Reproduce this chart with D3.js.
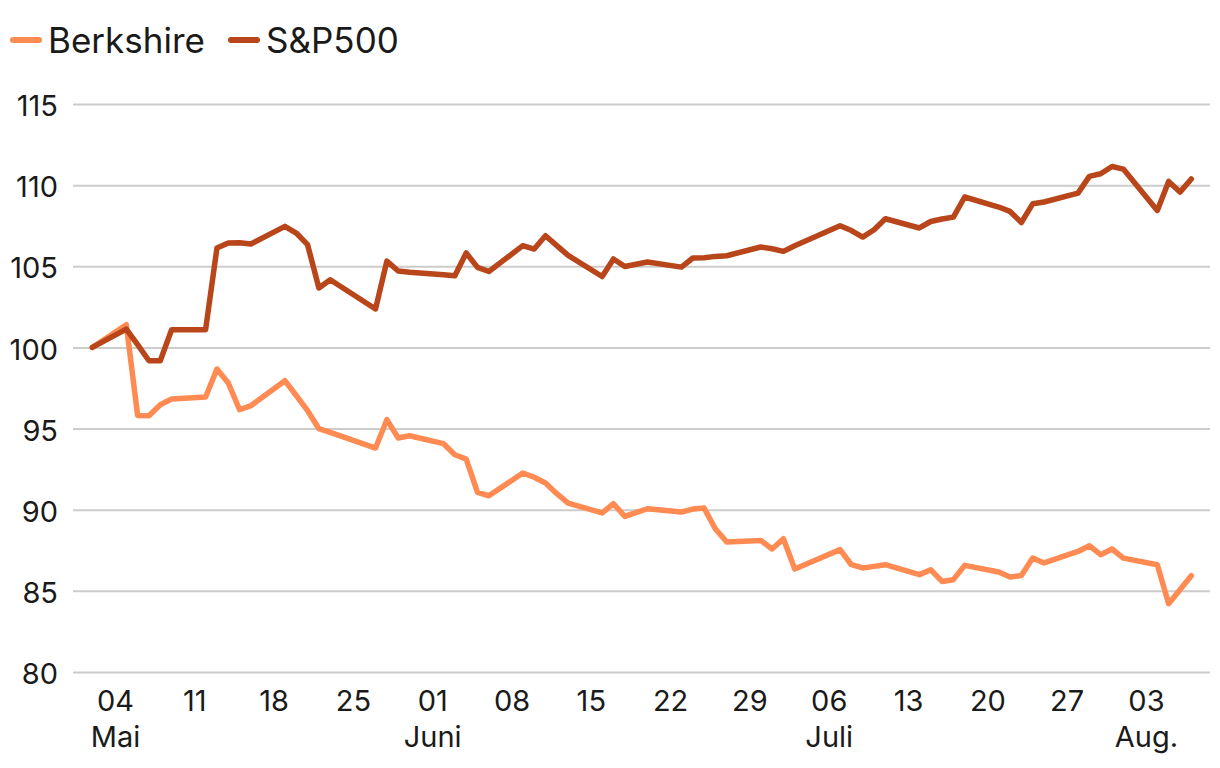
<!DOCTYPE html>
<html>
<head>
<meta charset="utf-8">
<script src="https://cdn.jsdelivr.net/npm/d3@7"></script>
<style>
  body { margin: 0; background: #fff; }
  svg { display: block; font-family: Inter, "Noto Sans", sans-serif; }
</style>
</head>
<body>
<div id="chart"></div>
<script>
// trading days, indexed to 100 on 2 May
var days = ["2025-05-02","2025-05-05","2025-05-06","2025-05-07","2025-05-08","2025-05-09",
  "2025-05-12","2025-05-13","2025-05-14","2025-05-15","2025-05-16",
  "2025-05-19","2025-05-20","2025-05-21","2025-05-22","2025-05-23",
  "2025-05-27","2025-05-28","2025-05-29","2025-05-30",
  "2025-06-02","2025-06-03","2025-06-04","2025-06-05","2025-06-06",
  "2025-06-09","2025-06-10","2025-06-11","2025-06-12","2025-06-13",
  "2025-06-16","2025-06-17","2025-06-18","2025-06-20",
  "2025-06-23","2025-06-24","2025-06-25","2025-06-26","2025-06-27",
  "2025-06-30","2025-07-01","2025-07-02","2025-07-03",
  "2025-07-07","2025-07-08","2025-07-09","2025-07-10","2025-07-11",
  "2025-07-14","2025-07-15","2025-07-16","2025-07-17","2025-07-18",
  "2025-07-21","2025-07-22","2025-07-23","2025-07-24","2025-07-25",
  "2025-07-28","2025-07-29","2025-07-30","2025-07-31","2025-08-01",
  "2025-08-04","2025-08-05","2025-08-06","2025-08-07"];

var berkshire = [100, 101.40, 95.81, 95.79, 96.47, 96.82,
  96.94, 98.67, 97.81, 96.16, 96.41,
  97.95, 97.04, 96.10, 94.99, 94.76,
  93.80, 95.55, 94.42, 94.56,
  94.07, 93.39, 93.12, 91.07, 90.86,
  92.26, 92.00, 91.65, 90.99, 90.41,
  89.80, 90.37, 89.59, 90.06,
  89.86, 90.04, 90.10, 88.81, 88.01,
  88.11, 87.58, 88.21, 86.35,
  87.54, 86.61, 86.41, 86.51, 86.61,
  86.00, 86.30, 85.58, 85.69, 86.57,
  86.16, 85.85, 85.95, 87.02, 86.72,
  87.43, 87.78, 87.23, 87.58, 87.02,
  86.61, 84.21, 85.07, 85.93];

var sp500 = [100, 101.13, 100.17, 99.18, 99.18, 101.09,
  101.09, 106.12, 106.43, 106.45, 106.37,
  107.46, 107.05, 106.33, 103.66, 104.17,
  102.37, 105.32, 104.71, 104.63,
  104.48, 104.42, 105.82, 104.93, 104.68,
  106.27, 106.06, 106.88, 106.27, 105.67,
  104.37, 105.45, 104.99, 105.26,
  104.95, 105.51, 105.53, 105.61, 105.65,
  106.19, 106.08, 105.92, 106.27,
  107.50, 107.20, 106.80, 107.25, 107.93,
  107.36, 107.76, 107.91, 108.03, 109.27,
  108.65, 108.38, 107.70, 108.85, 108.96,
  109.51, 110.54, 110.70, 111.15, 110.99,
  108.44, 110.23, 109.57, 110.38];

var yTicks = [80, 85, 90, 95, 100, 105, 110, 115];
var monthNames = ["Jan.", "Feb.", "März", "April", "Mai", "Juni", "Juli", "Aug.", "Sep.", "Okt.", "Nov.", "Dez."];
var seriesNames = ["Berkshire", "S&P500"];
var colors = ["#ff8a52", "#b8461a"];

var width = 1220, height = 768;
var parse = d3.timeParse("%Y-%m-%d");
var dates = days.map(parse);

var svg = d3.select("#chart").append("svg")
    .attr("width", width)
    .attr("height", height);

var x = d3.scaleTime()
    .domain([dates[0], dates[dates.length - 1]])
    .range([92.3, 1191.3]);

var y = d3.scaleLinear()
    .domain([80, 115])
    .range([672, 104]);

var gridLeft = 73, gridRight = 1210;

// y axis + gridlines
var yAxis = svg.append("g")
    .attr("transform", "translate(" + gridLeft + ",0)")
    .call(d3.axisLeft(y)
        .tickValues(yTicks)
        .tickSize(-(gridRight - gridLeft))
        .tickPadding(15));
yAxis.select(".domain").remove();
yAxis.selectAll(".tick line")
    .attr("stroke", "#cccccc")
    .attr("stroke-width", 2);
yAxis.selectAll(".tick text")
    .attr("dy", "0.4em")
    .attr("fill", "#1a1a1a")
    .style("font-size", "29px")
    .style("font-family", "Inter, sans-serif");

// x axis
var xAxis = svg.append("g")
    .attr("transform", "translate(0,672)")
    .call(d3.axisBottom(x)
        .ticks(d3.timeSunday.every(1))
        .tickFormat(d3.timeFormat("%d"))
        .tickSize(0)
        .tickPadding(18.5));
xAxis.select(".domain").remove();
xAxis.selectAll(".tick text")
    .attr("fill", "#1a1a1a")
    .style("font-size", "29px")
    .style("font-family", "Inter, sans-serif");
xAxis.selectAll(".tick")
    .filter(function (d) { return d.getDate() <= 7; })
    .append("text")
    .attr("y", 18.5)
    .attr("dy", "1.95em")
    .attr("text-anchor", "middle")
    .attr("fill", "#1a1a1a")
    .style("font-size", "29px")
    .style("font-family", "Inter, sans-serif")
    .text(function (d) { return monthNames[d.getMonth()]; });

// lines
var line = d3.line()
    .x(function (d, i) { return x(dates[i]); })
    .y(function (d) { return y(d); });

[berkshire, sp500].forEach(function (vals, k) {
  svg.append("path")
      .datum(vals)
      .attr("d", line)
      .attr("fill", "none")
      .attr("stroke", colors[k])
      .attr("stroke-width", 5.5)
      .attr("stroke-linejoin", "round")
      .attr("stroke-linecap", "round");
});

// legend
var legendX = [10, 228];
var legend = svg.append("g");
seriesNames.forEach(function (name, k) {
  legend.append("line")
      .attr("x1", legendX[k] + 3).attr("x2", legendX[k] + 29)
      .attr("y1", 40).attr("y2", 40)
      .attr("stroke", colors[k])
      .attr("stroke-width", 6)
      .attr("stroke-linecap", "round");
  legend.append("text")
      .attr("x", legendX[k] + 38)
      .attr("y", 53)
      .attr("fill", "#1a1a1a")
      .style("font-size", "35px")
      .text(name);
});
</script>
</body>
</html>
